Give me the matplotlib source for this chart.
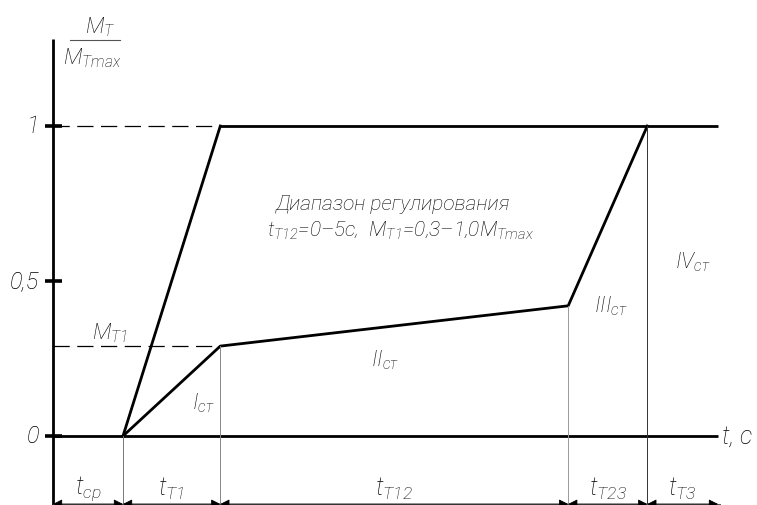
import matplotlib
matplotlib.use("Agg")
import matplotlib.pyplot as plt

# ---- data ----
stage_times = [0.0, 1.0, 2.39, 7.36, 8.49]   # t = 0, end t_cp, end t_T1, end t_T12, end t_T23
t_end = 9.5
torque_lower = [0.0, 0.29, 0.42, 1.0]        # at t_cp, t_T1, t_T12, t_T23 ends
torque_upper = [0.0, 1.0]                    # at t_cp, t_T1
M_T1 = 0.29
ytick_vals = [0, 0.5, 1]
ytick_labels = ["0", "0,5", "1"]
dim_labels = [r"$t_{ср}$", r"$t_{T1}$", r"$t_{T12}$", r"$t_{T23}$", r"$t_{T3}$"]
stage_labels = [r"$I_{ст}$", r"$II_{ст}$", r"$III_{ст}$", r"$IV_{ст}$"]

fam = "Roboto"
plt.rcParams["font.family"] = [fam, "DejaVu Sans"]
plt.rcParams["font.style"] = "italic"
plt.rcParams["font.weight"] = "light"
plt.rcParams["mathtext.fontset"] = "custom"
plt.rcParams["mathtext.it"] = "Roboto:italic:light"
plt.rcParams["mathtext.rm"] = "Roboto:italic:light"
plt.rcParams["mathtext.default"] = "it"

fig = plt.figure(figsize=(7.57, 5.06), dpi=100)
ax = fig.add_axes([0, 0, 1, 1])
ax.set_xlim(-53 / 70, (757 - 53) / 70)
ax.set_ylim(-(506 - 437) / 310, 437 / 310)
ax.axis("off")

K = "black"
thick = 2.0
thin = 0.7

def px(x):
    return (x - 53) / 70

def py(y):
    return (437 - y) / 310

# axes
ax.plot([0, 0], [-0.23, 1.28], color=K, lw=thick, solid_capstyle="butt")
ax.plot([0, t_end], [0, 0], color=K, lw=thick, solid_capstyle="butt")
for v, lab in zip(ytick_vals, ytick_labels):
    ax.plot([-0.11, 0.13], [v, v], color=K, lw=2.6, solid_capstyle="butt")
    ax.text(px(39), v, lab, ha="right", va="center", fontsize=17)

# dashed reference lines
ax.plot([0, stage_times[2]], [1, 1], color=K, lw=0.9, dashes=(13, 6))
ax.plot([0, stage_times[2]], [M_T1, M_T1], color=K, lw=0.9, dashes=(13, 6))

# characteristic lines
ax.plot(stage_times[1:3], torque_upper, color=K, lw=thick)
ax.plot([stage_times[2], t_end], [1, 1], color=K, lw=thick, solid_capstyle="butt")
ax.plot(stage_times[1:], torque_lower, color=K, lw=thick)

# extension lines
ydim = py(505)
ext_tops = [0.0, 0.0] + torque_lower[1:]
ext_cols = ["#555555", "#777777", "#888888", "#999999", "#333333"]
for t, top, c in zip(stage_times, ext_tops, ext_cols):
    if t == 0:
        continue
    ax.plot([t, t], [ydim - 0.02, top], color=c, lw=thin)

# dimension line with arrows
bounds = stage_times + [t_end]
ax.plot([0, t_end + 0.03], [ydim, ydim], color="#555555", lw=thin)
for a, b, lab in zip(bounds[:-1], bounds[1:], dim_labels):
    ax.annotate("", xy=(a, ydim), xytext=(b, ydim),
                arrowprops=dict(arrowstyle="<|-|>", color=K, lw=0.6,
                                shrinkA=0, shrinkB=0, mutation_scale=14),
                annotation_clip=False)
    ax.text((a + b) / 2, py(489), lab, ha="center", va="center", fontsize=18)

# axis labels
ax.text(px(100), py(27), r"$M_T$", ha="center", va="center", fontsize=16)
ax.plot([px(70), px(120)], [py(41)] * 2, color="#555555", lw=0.8)
ax.text(px(92), py(58), r"$M_{Tmax}$", ha="center", va="center", fontsize=16)
ax.text(px(737), 0, "t, с", ha="center", va="center", fontsize=18)

# annotations
ax.text(px(110), py(333), r"$M_{T1}$", ha="center", va="center", fontsize=16)
stage_pos = [(203, 403), (385, 360), (611, 306), (693, 262)]
for (x, y), lab in zip(stage_pos, stage_labels):
    ax.text(px(x), py(y), lab, ha="center", va="center", fontsize=16)

ax.text(px(393), py(205), "Диапазон регулирования",
        ha="center", va="center", fontsize=15)
ax.text(px(400), py(231),
        r"$t_{T12}$=0–5с,  $M_{T1}$=0,3–1,0$M_{Tmax}$",
        ha="center", va="center", fontsize=15)

fig.savefig("out.png", dpi=100)
